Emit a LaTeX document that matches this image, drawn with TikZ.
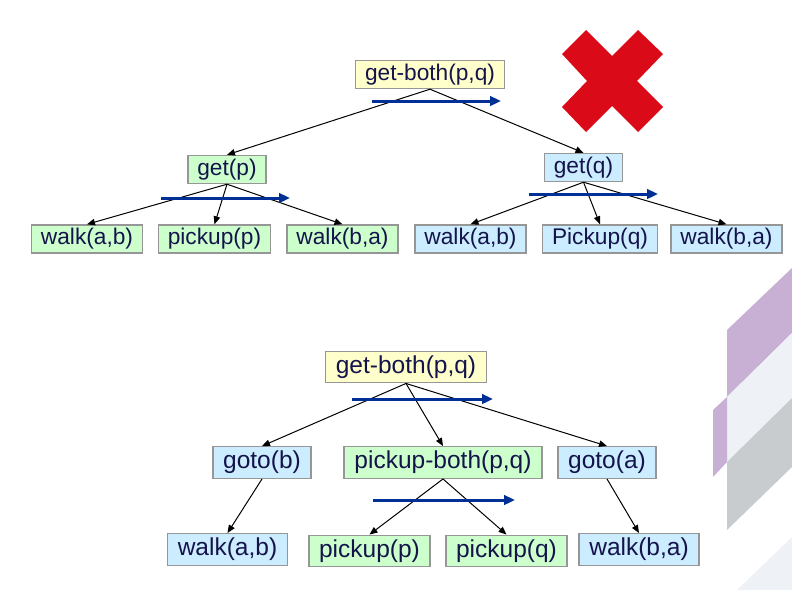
\documentclass[tikz,border=0pt]{standalone}
\usepackage{fontspec}
\setmainfont{Liberation Sans}
\usetikzlibrary{arrows.meta}
\definecolor{goalyellow}{RGB}{255,255,204}
\definecolor{methgreen}{RGB}{204,255,204}
\definecolor{primblue}{RGB}{204,236,255}
\definecolor{boxgray}{RGB}{150,150,150}
\definecolor{tasknavy}{RGB}{20,20,75}
\definecolor{orderblue}{RGB}{0,48,150}
\definecolor{crossred}{RGB}{218,10,24}
\definecolor{decopurple}{RGB}{200,176,212}
\definecolor{decolight}{RGB}{238,242,246}
\definecolor{decogray}{RGB}{200,204,207}

\begin{document}
\begin{tikzpicture}[x=1pt,y=-1pt,
    task/.style={draw=boxgray,line width=1.4pt,text=tasknavy,inner ysep=0pt,
                 inner xsep=9.3pt,minimum height=28pt,
                 font=\fontsize{22.7}{26}\selectfont},
    bigtask/.style={task,inner xsep=10.3pt,minimum height=31.5pt,
                    font=\fontsize{24.5}{28}\selectfont},
    sub/.style={-{Triangle[length=8pt,width=6.5pt]},line width=1pt},
    order/.style={-{Triangle[length=11pt,width=9.5pt]},line width=3pt,orderblue}]
    \useasboundingbox (0,0) rectangle (792,590);
    % corner decoration
    \fill[decopurple] (727,330)--(792,268)--(792,333)--(727,397)--cycle;
    \fill[decolight] (727,397)--(792,333)--(792,398)--(727,462)--cycle;
    \fill[decopurple] (713,410)--(727,397)--(727,462)--(713,477)--cycle;
    \fill[decogray] (727,462)--(792,398)--(792,467)--(727,530)--cycle;
    \fill[decolight] (737,590)--(792,537)--(792,590)--cycle;
    % rejected decomposition
    \fill[crossred] (586,30)--(612,56)--(638,30)--(663,54)--(637,81)--(663,107)
      --(638,132)--(612,106)--(586,132)--(562,107)--(587,81)--(562,54)--cycle;

    % first decomposition
    \node[task,fill=goalyellow] (gb1) at (430,74.5) {get-both(p,q)};
    \node[task,fill=methgreen] (gp) at (227,169.5) {get(p)};
    \node[task,fill=primblue] (gq) at (583.5,167.5) {get(q)};
    \node[task,fill=methgreen] (wab1) at (87,239) {walk(a,b)};
    \node[task,fill=methgreen] (pp1) at (214.5,239) {pickup(p)};
    \node[task,fill=methgreen] (wba1) at (342.5,239) {walk(b,a)};
    \node[task,fill=primblue] (wab2) at (470.5,239) {walk(a,b)};
    \node[task,fill=primblue] (pq1) at (600,239) {Pickup(q)};
    \node[task,fill=primblue] (wba2) at (726.5,239) {walk(b,a)};
    \foreach \kid in {gp,gq}
      \draw[sub] (gb1.south) -- (\kid.north);
    \foreach \kid in {wab1,pp1,wba1}
      \draw[sub] (gp.south) -- (\kid.north);
    \foreach \kid in {wab2,pq1,wba2}
      \draw[sub] (gq.south) -- (\kid.north);
    \coordinate (o1a) at (372,101);
    \coordinate (o1b) at (501,101);
    \coordinate (o2a) at (161,198);
    \coordinate (o2b) at (290,198);
    \coordinate (o3a) at (529,194);
    \coordinate (o3b) at (658,194);
    \draw[order] (o1a) -- (o1b);
    \draw[order] (o2a) -- (o2b);
    \draw[order] (o3a) -- (o3b);

    % second decomposition
    \node[bigtask,fill=goalyellow] (gb2) at (406,367) {get-both(p,q)};
    \node[bigtask,fill=primblue] (gtb) at (262,462.5) {goto(b)};
    \node[bigtask,fill=methgreen] (pb) at (443,462.5) {pickup-both(p,q)};
    \node[bigtask,fill=primblue] (gta) at (607,462.5) {goto(a)};
    \node[bigtask,fill=primblue] (wab3) at (227.5,549.5) {walk(a,b)};
    \node[bigtask,fill=methgreen] (pp2) at (369.5,551) {pickup(p)};
    \node[bigtask,fill=methgreen] (pq2) at (506.5,551) {pickup(q)};
    \node[bigtask,fill=primblue] (wba3) at (639,549.5) {walk(b,a)};
    \foreach \kid in {gtb,pb,gta}
      \draw[sub] (gb2.south) -- (\kid.north);
    \draw[sub] (gtb.south) -- (wab3.north);
    \draw[sub] (pb.south) -- (pp2.north);
    \draw[sub] (pb.south) -- (pq2.north);
    \draw[sub] (gta.south) -- (wba3.north);
    \coordinate (o4a) at (352,399);
    \coordinate (o4b) at (493,399);
    \coordinate (o5a) at (373,500);
    \coordinate (o5b) at (515,500);
    \draw[order] (o4a) -- (o4b);
    \draw[order] (o5a) -- (o5b);
\end{tikzpicture}
\end{document}
